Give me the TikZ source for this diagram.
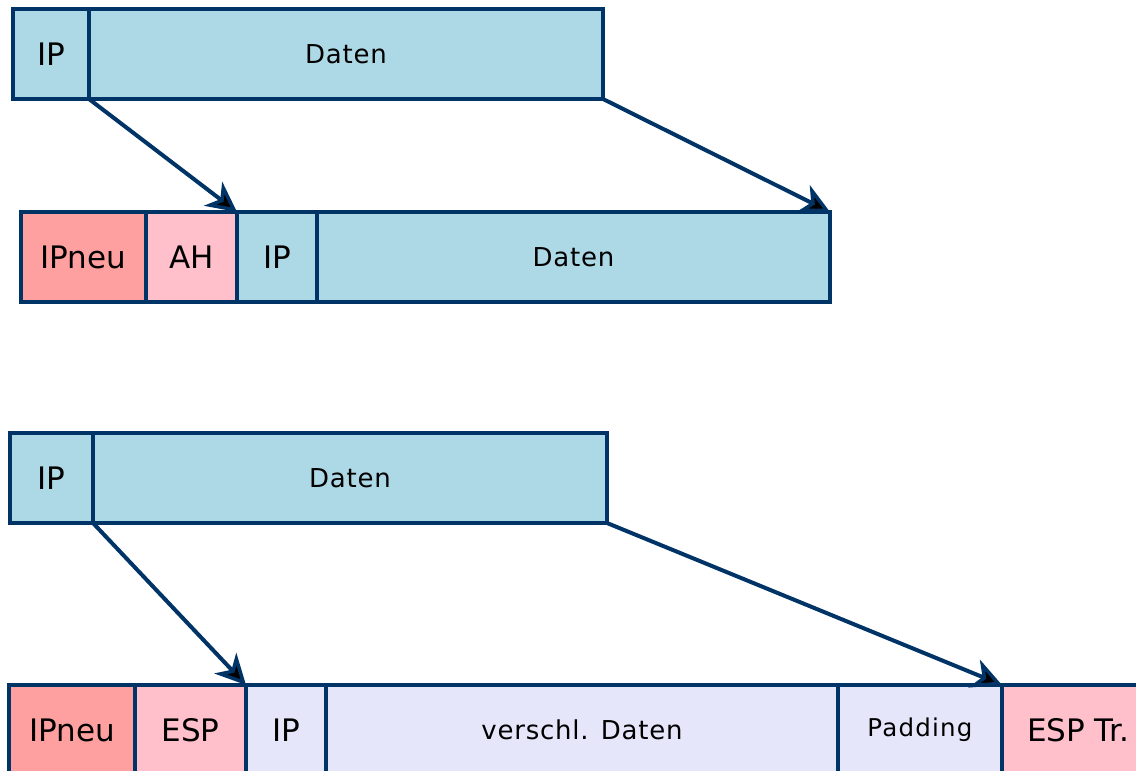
\documentclass[tikz,border=0pt]{standalone}
\usepackage{fontspec}
\setmainfont{DejaVu Sans}
\usetikzlibrary{arrows.meta}
\definecolor{edge}{RGB}{0,51,102}
\definecolor{datablue}{RGB}{173,216,230}
\definecolor{newhdr}{RGB}{255,160,160}
\definecolor{sechdr}{RGB}{255,192,203}
\definecolor{cipher}{RGB}{230,230,250}
\tikzset{
  cell/.style={draw=edge, line width=4.5pt, anchor=north west, inner sep=0pt,
    outer sep=0pt, minimum height=90pt, text=black},
  big/.style={font=\fontsize{31}{33}\selectfont},
  small/.style={font=\fontsize{26}{28}\selectfont\addfontfeature{LetterSpace=3}},
  tiny/.style={font=\fontsize{24.5}{26}\selectfont\addfontfeature{LetterSpace=5}},
  moveto/.style={draw=edge, line width=4pt,
    -{Stealth[length=30pt, width=30pt, inset=9pt, fill=black, line width=3.5pt]}}
}
\begin{document}
\begin{tikzpicture}[x=1pt, y=-1pt]
\useasboundingbox (0,0) rectangle (1136,771);
\clip (0,0) rectangle (1136,771);

% transport mode with AH
\node[cell, big, fill=datablue, minimum width=76pt] (ipA) at (13,9) {IP};
\node[cell, small, fill=datablue, minimum width=514pt] (datA) at (89,9) {Daten};

\node[cell, big, fill=newhdr, minimum width=125pt] (newA) at (21,212) {IPneu};
\node[cell, big, fill=sechdr, minimum width=91pt] (ah) at (146,212) {AH};
\node[cell, big, fill=datablue, minimum width=80pt] (ipB) at (237,212) {IP};
\node[cell, small, fill=datablue, minimum width=513pt] (datB) at (317,212) {Daten};

\draw[moveto] (ipA.south east) -- (ipB.north west);
\draw[moveto] (datA.south east) -- (datB.north east);

% tunnel mode with ESP
\node[cell, big, fill=datablue, minimum width=83pt] (ipC) at (10,433) {IP};
\node[cell, small, fill=datablue, minimum width=514pt] (datC) at (93,433) {Daten};

\node[cell, big, fill=newhdr, minimum width=126pt] (newD) at (9,685) {IPneu};
\node[cell, big, fill=sechdr, minimum width=111pt] (esp) at (135,685) {ESP};
\node[cell, big, fill=cipher, minimum width=80pt] (ipD) at (246,685) {IP};
\node[cell, small, fill=cipher, minimum width=512pt] (datD) at (326,685) {verschl. Daten};
\node[cell, tiny, fill=cipher, minimum width=164pt] (pad) at (838,685) {Padding};
\node[cell, big, fill=sechdr, minimum width=152pt] (trl) at (1002,685) {ESP Tr.};

\draw[moveto] (ipC.south east) -- (ipD.north west);
\draw[moveto] (datC.south east) -- (trl.north west);
\end{tikzpicture}
\end{document}
